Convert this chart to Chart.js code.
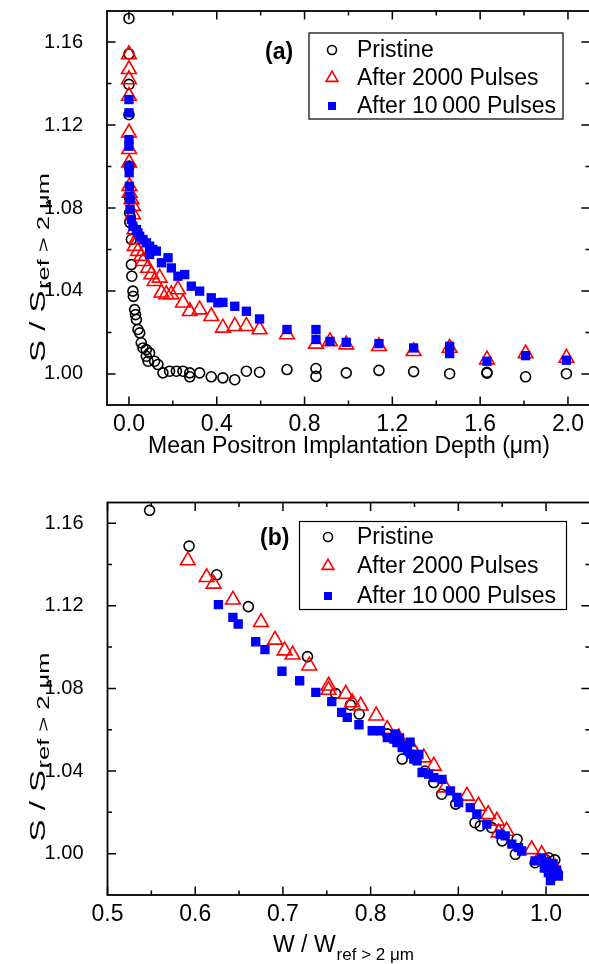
<!DOCTYPE html>
<html>
<head>
<meta charset="utf-8">
<script src="https://cdn.jsdelivr.net/npm/chart.js@4.4.1/dist/chart.umd.min.js"></script>
<style>
  html, body { margin: 0; padding: 0; background: #fff; overflow: hidden; }
  body { width: 589px; height: 964px; position: relative; }
  canvas { position: absolute; left: 0; }
  #chartA { top: 0; }
  #chartB { top: 492px; }
</style>
</head>
<body>
<canvas id="chartA" width="600" height="470"></canvas>
<canvas id="chartB" width="600" height="472"></canvas>
<script>
const FONT = '"Liberation Sans", Arial, Helvetica, sans-serif';

const SERIES_NAMES = ['Pristine', 'After 2000 Pulses', 'After 10\u2009000 Pulses'];

// axis ticks
const X_TICKS_A = [0, 0.4, 0.8, 1.2, 1.6, 2.0];
const X_MINOR_A = [0.2, 0.6, 1.0, 1.4, 1.8];
const X_TICKS_B = [0.5, 0.6, 0.7, 0.8, 0.9, 1.0];
const X_MINOR_B = [0.55, 0.65, 0.75, 0.85, 0.95];
const Y_TICKS = [1.00, 1.04, 1.08, 1.12, 1.16];
const Y_MINOR = [1.02, 1.06, 1.10, 1.14];

// (a) S vs mean implantation depth (um)
const depthPristine = [0, 0, 0, 0, 0.001, 0.002, 0.003, 0.004, 0.011, 0.011, 0.013, 0.018, 0.020, 0.026, 0.030, 0.034, 0.041, 0.049, 0.056, 0.064, 0.079, 0.079, 0.087, 0.094, 0.117, 0.132, 0.155, 0.185, 0.216, 0.246, 0.277, 0.277, 0.322, 0.375, 0.428, 0.482, 0.535, 0.595, 0.72, 0.852, 0.852, 0.99, 1.139, 1.297, 1.461, 1.631, 1.631, 1.807, 1.993];
const sDepthPristine = [1.1714, 1.1543, 1.1396, 1.125, 1.1002, 1.0850, 1.0777, 1.0731, 1.0648, 1.0527, 1.0471, 1.0399, 1.0374, 1.0310, 1.0286, 1.0262, 1.0214, 1.0198, 1.0150, 1.0125, 1.0117, 1.0085, 1.0061, 1.0101, 1.0061, 1.0045, 1.0005, 1.0013, 1.0013, 1.0013, 1.0005, 0.9986, 1.0005, 0.9986, 0.9981, 0.9972, 1.0013, 1.0008, 1.0021, 1.0026, 0.9988, 1.0005, 1.0017, 1.0011, 1.0001, 1.0008, 1.0003, 0.9986, 1.0001];

const depth2000 = [0, 0, 0, 0, 0, 0.001, 0.001, 0.002, 0.003, 0.011, 0.018, 0.018, 0.026, 0.034, 0.026, 0.041, 0.056, 0.064, 0.087, 0.102, 0.117, 0.14, 0.148, 0.17, 0.193, 0.223, 0.246, 0.277, 0.322, 0.375, 0.428, 0.482, 0.535, 0.595, 0.72, 0.852, 0.916, 0.99, 1.139, 1.297, 1.461, 1.631, 1.807, 1.993];
const sDepth2000 = [1.1541, 1.1469, 1.1420, 1.1340, 1.1163, 1.1083, 1.1018, 1.0905, 1.0873, 1.0841, 1.0809, 1.0769, 1.0696, 1.0648, 1.0616, 1.0592, 1.0568, 1.0543, 1.0511, 1.0479, 1.0447, 1.0463, 1.0391, 1.0383, 1.0383, 1.0407, 1.0343, 1.0302, 1.0310, 1.0278, 1.0222, 1.0230, 1.0230, 1.0214, 1.0190, 1.0145, 1.0157, 1.0141, 1.0133, 1.0109, 1.0125, 1.0069, 1.0098, 1.0077];

const depth10000 = [0, 0, 0, 0, 0.001, 0.001, 0.002, 0.003, 0.005, 0.005, 0.011, 0.018, 0.034, 0.041, 0.049, 0.064, 0.079, 0.094, 0.109, 0.125, 0.094, 0.148, 0.178, 0.193, 0.223, 0.254, 0.284, 0.322, 0.375, 0.405, 0.428, 0.482, 0.535, 0.595, 0.72, 0.852, 0.852, 0.916, 0.99, 1.139, 1.297, 1.461, 1.461, 1.631, 1.807, 1.993];
const sDepth10000 = [1.1323, 1.1259, 1.1130, 1.1098, 1.1002, 1.0970, 1.0905, 1.0857, 1.0841, 1.0793, 1.0745, 1.0712, 1.0696, 1.0680, 1.0664, 1.0648, 1.0632, 1.0616, 1.0600, 1.0592, 1.0576, 1.0536, 1.0560, 1.0511, 1.0471, 1.0479, 1.0423, 1.0399, 1.0367, 1.0343, 1.0345, 1.0326, 1.0302, 1.0265, 1.0214, 1.0214, 1.0166, 1.0157, 1.0152, 1.0146, 1.0125, 1.0133, 1.0098, 1.0061, 1.0088, 1.0066];

// (b) S vs W
const wPristine = [0.548, 0.593, 0.6245, 0.6606, 0.728, 0.760, 0.777, 0.787, 0.819, 0.836, 0.848, 0.862, 0.872, 0.881, 0.897, 0.919, 0.925, 0.938, 0.950, 0.965, 0.967, 0.9875, 0.9989, 1.006, 1.003, 1.010];
const sWPristine = [1.1662, 1.1489, 1.1350, 1.1196, 1.0954, 1.0775, 1.0720, 1.0676, 1.0580, 1.0458, 1.0500, 1.0400, 1.0344, 1.0288, 1.0240, 1.0150, 1.0134, 1.0126, 1.0062, 0.9997, 1.0070, 0.9956, 0.9973, 0.9949, 0.9980, 0.9970];

const w2000 = [0.5916, 0.613, 0.621, 0.643, 0.675, 0.691, 0.702, 0.711, 0.73, 0.752, 0.752, 0.7716, 0.779, 0.7886, 0.8064, 0.8189, 0.832, 0.849, 0.8606, 0.872, 0.885, 0.9098, 0.923, 0.934, 0.9439, 0.946, 0.955, 0.9836, 0.995, 1.0102];
const sW2000 = [1.1419, 1.1338, 1.1306, 1.1229, 1.1120, 1.1035, 1.0983, 1.0963, 1.0910, 1.0813, 1.0792, 1.0773, 1.0732, 1.0716, 1.0668, 1.0603, 1.0562, 1.0498, 1.0465, 1.0425, 1.0320, 1.0280, 1.0231, 1.0191, 1.0159, 1.0102, 1.0110, 1.0021, 0.9997, 0.9932];

const w10000 = [0.6265, 0.643, 0.649, 0.669, 0.6795, 0.6989, 0.7191, 0.7375, 0.7557, 0.767, 0.7734, 0.7867, 0.8018, 0.8113, 0.819, 0.8265, 0.828, 0.830, 0.833, 0.836, 0.8398, 0.842, 0.845, 0.8455, 0.8492, 0.853, 0.855, 0.8587, 0.8662, 0.872, 0.8814, 0.891, 0.8984, 0.9003, 0.9136, 0.9211, 0.9325, 0.9477, 0.9534, 0.961, 0.9685, 0.9723, 0.9875, 0.9989, 1.0045, 1.0026, 1.0102, 1.014, 1.005, 0.995, 1.0, 1.008, 1.012, 0.998, 1.006];
const sW10000 = [1.1206, 1.1144, 1.1112, 1.1026, 1.0988, 1.0883, 1.0837, 1.0781, 1.0736, 1.0684, 1.0660, 1.0624, 1.0595, 1.0595, 1.0562, 1.0555, 1.0580, 1.0538, 1.0560, 1.0514, 1.0522, 1.0500, 1.0540, 1.0482, 1.0458, 1.0450, 1.0480, 1.0393, 1.0385, 1.0368, 1.0360, 1.0304, 1.0272, 1.0247, 1.0223, 1.0191, 1.0143, 1.0094, 1.0086, 1.0046, 1.0029, 1.0013, 0.9965, 0.9949, 0.9932, 0.9908, 0.9908, 0.9892, 0.9870, 0.9980, 0.9960, 0.9950, 0.9920, 0.9930, 0.9890];

function pairs(xs, ys) {
  return xs.map((x, i) => ({ x, y: ys[i] }));
}

function circleSet(data) {
  return { data, pointStyle: 'circle', pointRadius: 5, borderWidth: 1.6, borderColor: '#000000', backgroundColor: 'rgba(0,0,0,0)', order: 2 };
}
function triangleSet(data) {
  return { data, pointStyle: 'triangle', pointRadius: 8.5, borderWidth: 1.6, borderColor: '#ff0000', backgroundColor: 'rgba(0,0,0,0)', order: 1 };
}
function squareSet(data) {
  return { data, pointStyle: 'rect', pointRadius: 6.6, borderWidth: 0, borderColor: '#0000ff', backgroundColor: '#0000ff', order: 0 };
}

function drawTitle(ctx, main, sub, x, y, size, subSize, drop) {
  ctx.font = `${size}px ${FONT}`;
  ctx.textAlign = 'left';
  ctx.textBaseline = 'alphabetic';
  ctx.fillText(main, x, y);
  const w = ctx.measureText(main).width;
  if (sub) {
    ctx.font = `${subSize}px ${FONT}`;
    ctx.fillText(sub, x + w + 1, y + drop);
  }
}

function drawMarker(ctx, kind, cx, cy) {
  ctx.beginPath();
  if (kind === 0) {
    ctx.arc(cx, cy, 4.5, 0, Math.PI * 2);
    ctx.strokeStyle = '#000';
    ctx.lineWidth = 1.6;
    ctx.stroke();
  } else if (kind === 1) {
    const r = 6.8;
    ctx.moveTo(cx, cy - r);
    ctx.lineTo(cx + r * 0.866, cy + r / 2);
    ctx.lineTo(cx - r * 0.866, cy + r / 2);
    ctx.closePath();
    ctx.strokeStyle = '#ff0000';
    ctx.lineWidth = 1.6;
    ctx.stroke();
  } else {
    ctx.fillStyle = '#0000ff';
    ctx.fillRect(cx - 4, cy - 4, 8, 8);
  }
}

const framePlugin = {
  id: 'frame',
  afterDatasetsDraw(chart, args, o) {
    const { ctx, chartArea: a } = chart;
    const xs = chart.scales.x, ys = chart.scales.y;
    ctx.save();
    ctx.strokeStyle = '#000';
    ctx.fillStyle = '#000';
    ctx.lineWidth = 1.8;
    ctx.strokeRect(a.left, a.top, a.right - a.left, a.bottom - a.top);

    // inward ticks on all four sides
    ctx.lineWidth = 1.5;
    ctx.beginPath();
    const tx = (vals, len) => vals.forEach(v => {
      const p = xs.getPixelForValue(v);
      ctx.moveTo(p, a.bottom); ctx.lineTo(p, a.bottom - len);
      ctx.moveTo(p, a.top); ctx.lineTo(p, a.top + len);
    });
    const ty = (vals, len) => vals.forEach(v => {
      const p = ys.getPixelForValue(v);
      ctx.moveTo(a.left, p); ctx.lineTo(a.left + len, p);
      ctx.moveTo(a.right, p); ctx.lineTo(a.right - len, p);
    });
    tx(o.xMajor, 8.5); tx(o.xMinor, 4.5);
    ty(o.yMajor, 8.5); ty(o.yMinor, 4.5);
    ctx.stroke();

    // axis titles
    const xt = o.xTitle;
    if (xt.center) {
      ctx.font = `${xt.size}px ${FONT}`;
      ctx.textAlign = 'center';
      ctx.textBaseline = 'alphabetic';
      ctx.fillText(xt.main, xt.x, xt.y);
    } else {
      drawTitle(ctx, xt.main, xt.sub, xt.x, xt.y, xt.size, xt.subSize, xt.drop);
    }
    const yt = o.yTitle;
    ctx.save();
    ctx.translate(yt.x, yt.y);
    ctx.rotate(-Math.PI / 2);
    ctx.scale(yt.stretch, 1);
    drawTitle(ctx, yt.main, yt.sub, 0, 0, yt.size, yt.subSize, yt.drop);
    ctx.restore();

    // panel tag
    ctx.font = `bold 23px ${FONT}`;
    ctx.textAlign = 'left';
    ctx.textBaseline = 'middle';
    ctx.fillText(o.tag.text, o.tag.x, o.tag.y);

    // legend
    const lg = o.legend;
    ctx.lineWidth = 1.2;
    ctx.strokeStyle = '#000';
    ctx.strokeRect(lg.x, lg.y, lg.w, lg.h);
    SERIES_NAMES.forEach((name, i) => {
      const cy = lg.rows[i];
      drawMarker(ctx, i, lg.mx, cy);
      ctx.fillStyle = '#000';
      ctx.font = `23px ${FONT}`;
      ctx.textAlign = 'left';
      ctx.textBaseline = 'middle';
      ctx.fillText(name, lg.tx, cy + 1);
    });
    ctx.restore();
  }
};

function makeChart(id, cfg) {
  return new Chart(document.getElementById(id), {
    type: 'scatter',
    data: {
      datasets: [circleSet(cfg.pristine), triangleSet(cfg.p2000), squareSet(cfg.p10000)]
    },
    options: {
      responsive: false,
      animation: false,
      events: [],
      layout: { padding: { top: cfg.padTop, right: cfg.padRight, left: 0, bottom: 0 } },
      plugins: {
        legend: { display: false },
        tooltip: { enabled: false },
        frame: cfg.frame
      },
      scales: {
        x: {
          type: 'linear',
          min: cfg.xMin,
          max: cfg.xMax,
          afterBuildTicks: s => { s.ticks = cfg.frame.xMajor.map(v => ({ value: v })); },
          afterFit: s => { s.height = cfg.xAxisHeight; s.paddingLeft = 0; s.paddingRight = 0; },
          grid: { display: false, drawTicks: false },
          border: { display: false },
          ticks: { color: '#000', font: { family: FONT, size: 23 }, padding: 6, maxRotation: 0, autoSkip: false, callback: v => v.toFixed(1) }
        },
        y: {
          type: 'linear',
          min: cfg.yMin,
          max: cfg.yMax,
          afterBuildTicks: s => { s.ticks = cfg.frame.yMajor.map(v => ({ value: v })); },
          afterFit: s => { s.width = cfg.yAxisWidth; s.paddingTop = 0; s.paddingBottom = 0; },
          grid: { display: false, drawTicks: false },
          border: { display: false },
          ticks: { color: '#000', font: { family: FONT, size: 20 }, padding: 24, autoSkip: false, callback: v => v.toFixed(2) }
        }
      }
    },
    plugins: [framePlugin]
  });
}

makeChart('chartA', {
  pristine: pairs(depthPristine, sDepthPristine),
  p2000: pairs(depth2000, sDepth2000),
  p10000: pairs(depth10000, sDepth10000),
  xMin: -0.1, xMax: 2.1, yMin: 0.985, yMax: 1.175,
  padTop: 11, padRight: 10, xAxisHeight: 65, yAxisWidth: 107,
  frame: {
    xMajor: X_TICKS_A, xMinor: X_MINOR_A, yMajor: Y_TICKS, yMinor: Y_MINOR,
    xTitle: { center: true, main: 'Mean Positron Implantation Depth (\u03bcm)', x: 349, y: 453, size: 23 },
    yTitle: { main: 'S / S', sub: 'ref > 2 \u03bcm', x: 45, y: 362, size: 22, subSize: 17, drop: 4, stretch: 1.5 },
    tag: { text: '(a)', x: 265, y: 53 },
    legend: { x: 309, y: 33, w: 254, h: 86, rows: [50, 78, 106], mx: 332, tx: 357 }
  }
});

makeChart('chartB', {
  pristine: pairs(wPristine, sWPristine),
  p2000: pairs(w2000, sW2000),
  p10000: pairs(w10000, sW10000),
  xMin: 0.5, xMax: 1.05, yMin: 0.98, yMax: 1.17,
  padTop: 10.5, padRight: 8.5, xAxisHeight: 69, yAxisWidth: 107.5,
  frame: {
    xMajor: X_TICKS_B, xMinor: X_MINOR_B, yMajor: Y_TICKS, yMinor: Y_MINOR,
    xTitle: { main: 'W / W', sub: 'ref > 2 \u03bcm', x: 273, y: 459.5, size: 23, subSize: 17, drop: 8 },
    yTitle: { main: 'S / S', sub: 'ref > 2 \u03bcm', x: 45, y: 349.5, size: 22, subSize: 17, drop: 4, stretch: 1.5 },
    tag: { text: '(b)', x: 260, y: 47 },
    legend: { x: 299.5, y: 29.5, w: 267, h: 88, rows: [45, 74, 104], mx: 328, tx: 357 }
  }
});
</script>
</body>
</html>
